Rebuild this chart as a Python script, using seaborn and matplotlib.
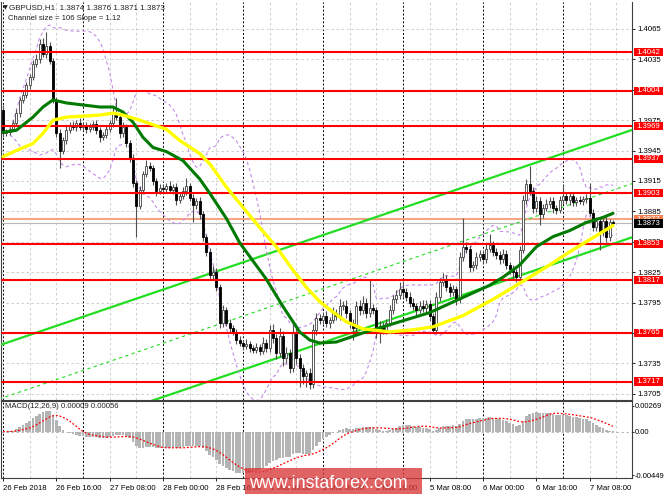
import numpy as np
import pandas as pd
import matplotlib
matplotlib.use("Agg")
import matplotlib.pyplot as plt
import matplotlib.transforms as mtrans
from matplotlib.patches import Rectangle
import seaborn as sns

# prices in pips above 1.3700, one H1 bar per value (26 Feb 00:00 .. 7 Mar 15:00)
base = 1.3700
pip = 0.0001
open0 = 285
closes = [
    262, 263, 266, 272, 282, 295, 300, 310, 318, 330, 335, 350, 340, 348, 333, 295,
    262, 245, 255, 265, 270, 268, 272, 268, 270, 266, 268, 271, 265, 258, 260, 266,
    272, 282, 278, 262, 268, 252, 238, 213, 190, 206, 222, 230, 228, 215, 205, 208,
    207, 210, 206, 209, 196, 200, 205, 210, 198, 191, 195, 182, 160, 145, 122, 125,
    110, 75, 88, 75, 70, 66, 58, 55, 52, 54, 50, 48, 51, 47, 55, 50,
    68, 60, 45, 62, 40, 45, 30, 65, 40, 30, 22, 25, 15, 68, 80, 78,
    82, 75, 78, 85, 82, 92, 92, 85, 75, 70, 92, 88, 95, 85, 90, 88,
    65, 72, 68, 75, 88, 98, 102, 108, 105, 100, 95, 92, 88, 92, 90, 94,
    82, 68, 100, 115, 118, 110, 105, 108, 98, 140, 150, 148, 130, 132, 140, 143,
    138, 148, 152, 145, 142, 138, 143, 132, 128, 125, 120, 147, 196, 212, 205, 188,
    195, 182, 188, 192, 195, 188, 186, 196, 200, 196, 200, 194, 196, 195, 197, 198,
    183, 170, 175, 165, 175, 160, 174, 173,
]
wick_up = [
    5, 3, 2, 3, 4, 3, 4, 3, 3, 4, 5, 5, 6, 14, 4, 3,
    3, 4, 3, 4, 3, 4, 3, 5, 3, 3, 4, 3, 4, 3, 3, 4,
    3, 6, 15, 4, 5, 3, 3, 4, 3, 4, 3, 6, 4, 3, 3, 4,
    4, 3, 5, 3, 4, 3, 4, 8, 3, 4, 3, 4, 3, 3, 4, 6,
    4, 3, 5, 3, 4, 3, 3, 4, 3, 5, 3, 3, 4, 3, 6, 4,
    5, 6, 4, 8, 5, 6, 4, 8, 5, 4, 4, 3, 5, 6, 5, 4,
    4, 5, 3, 6, 4, 6, 4, 5, 3, 4, 4, 5, 6, 4, 27, 4,
    3, 5, 4, 4, 5, 4, 5, 7, 8, 4, 5, 4, 3, 4, 5, 3,
    3, 3, 5, 4, 6, 4, 4, 4, 3, 5, 28, 5, 4, 4, 5, 4,
    4, 5, 11, 4, 4, 4, 5, 4, 3, 4, 3, 4, 5, 5, 18, 4,
    5, 4, 4, 5, 4, 4, 3, 4, 10, 4, 3, 4, 3, 4, 3, 4,
    15, 4, 4, 3, 4, 4, 3, 2,
]
wick_dn = [
    4, 3, 3, 2, 3, 4, 3, 3, 4, 3, 3, 4, 3, 4, 3, 3,
    4, 17, 3, 4, 3, 3, 4, 3, 3, 4, 3, 3, 4, 5, 3, 3,
    3, 4, 3, 5, 4, 3, 4, 4, 30, 3, 4, 3, 3, 4, 5, 3,
    3, 4, 3, 4, 5, 3, 3, 4, 3, 17, 4, 5, 4, 4, 5, 4,
    4, 5, 4, 3, 4, 3, 4, 3, 4, 3, 4, 3, 3, 4, 3, 4,
    4, 5, 6, 4, 8, 5, 5, 4, 6, 18, 7, 10, 5, 4, 5, 4,
    4, 4, 5, 3, 4, 4, 4, 5, 5, 12, 4, 5, 4, 5, 4, 4,
    5, 10, 4, 4, 3, 4, 3, 4, 5, 4, 4, 4, 5, 3, 4, 4,
    5, 2, 3, 4, 4, 4, 5, 4, 5, 3, 4, 4, 5, 4, 4, 4,
    4, 4, 3, 4, 4, 5, 4, 4, 5, 8, 5, 4, 3, 4, 4, 5,
    4, 10, 4, 3, 4, 5, 4, 3, 4, 4, 5, 4, 4, 3, 4, 4,
    3, 4, 4, 18, 4, 5, 4, 2,
]

# moving averages (bar index, pips above 1.3700)
green_idx = [0, 4, 9, 12, 15, 19, 24, 29, 33, 36, 39, 42, 45, 49, 54, 59, 62, 67, 71, 75,
             79, 84, 89, 92, 95, 100, 108, 118, 128, 138, 146, 150, 155, 160, 165, 170, 175, 180, 183]
green_val = [263, 265, 278, 288, 295, 292, 290, 288, 288, 283, 273, 258, 248, 244, 235, 217, 203, 178, 154, 136,
             118, 91, 66, 58, 55, 56, 65, 75, 85, 100, 112, 120, 132, 150, 160, 166, 174, 179, 183]
yellow_idx = [0, 4, 9, 12, 15, 19, 29, 33, 36, 41, 49, 53, 59, 62, 67, 72, 77, 82, 87, 91,
              95, 98, 103, 108, 116, 123, 129, 138, 148, 155, 163, 170, 175, 180, 183]
yellow_val = [239, 245, 252, 262, 275, 278, 280, 282, 280, 275, 266, 255, 242, 232, 209, 189, 169, 150, 127, 110,
              96, 88, 76, 69, 66, 68, 71, 82, 100, 114, 130, 145, 155, 165, 171]

levels = [1.4042, 1.4004, 1.3969, 1.3937, 1.3903, 1.3853, 1.3817, 1.3765, 1.3717]
bid = 1.3873
ask = 1.3877
price_ticks = [1.3705, 1.3735, 1.3765, 1.3795, 1.3825, 1.3855, 1.3885,
               1.3915, 1.3945, 1.3975, 1.4005, 1.4035, 1.4065]

# linear regression channel
channel_start = 1.3754
channel_slope = 0.000112
channel_size = 0.0106

macd_ticks = [0.00269, 0.0, -0.00449]
macd_labels = ["0.00269", "0.00", "-0.00449"]

date_pos = [0, 16, 32, 48, 64, 80, 96, 112, 128, 144, 160, 176]
date_labels = ["26 Feb 2018", "26 Feb 16:00", "27 Feb 08:00", "28 Feb 00:00", "28 Feb 16:00",
               "1 Mar 08:00", "2 Mar 00:00", "2 Mar 16:00", "5 Mar 08:00", "6 Mar 00:00",
               "6 Mar 16:00", "7 Mar 08:00"]

sns.set_theme(style="white")
plt.rcParams["font.family"] = ["Liberation Sans", "DejaVu Sans"]

c = base + np.array(closes) * pip
o = np.r_[base + open0 * pip, c[:-1]]
o[-1] = 1.3874
hi = np.maximum(o, c) + np.array(wick_up) * pip
lo = np.minimum(o, c) - np.array(wick_dn) * pip
x = np.arange(len(c))
bull = c >= o

s = pd.Series(c)
bb_mid = s.rolling(20, min_periods=3).mean()
bb_sd = s.rolling(20, min_periods=3).std(ddof=0)
macd = (s.ewm(span=12, adjust=False).mean() - s.ewm(span=26, adjust=False).mean()).to_numpy()
signal = pd.Series(macd).rolling(9, min_periods=1).mean().to_numpy()

W, H = 665, 499
fig = plt.figure(figsize=(W / 100, H / 100), dpi=100)
ax = fig.add_axes([1 / W, (H - 400) / H, 631 / W, 398 / H])
ax2 = fig.add_axes([1 / W, (H - 478) / H, 631 / W, 77 / H])

xmin, xmax = -0.6, 188.7
grid_c = "#c8c8c8"
for a in (ax, ax2):
    a.set_facecolor("white")
    for v in range(0, 189, 8):
        if v % 24 == 0:
            a.axvline(v, color="black", lw=0.7, ls=(0, (2, 2)), zorder=1)
        else:
            a.axvline(v, color=grid_c, lw=0.6, ls=(0, (3, 3)), zorder=1)
    for sp in a.spines.values():
        sp.set_color("#404040")
        sp.set_linewidth(0.8)

for p in price_ticks:
    ax.axhline(p, color=grid_c, lw=0.6, ls=(0, (3, 3)), zorder=1)

# bid / ask lines
ax.axhline(ask, color="#f4a585", lw=1.5, zorder=2)
ax.axhline(bid, color="#b8b8b8", lw=0.8, zorder=2)

# channel
cx = np.array([xmin - 1, xmax + 1])
ch_up = channel_start + channel_slope * cx
sns.lineplot(x=cx, y=ch_up, ax=ax, color="#22dd22", lw=1.6, zorder=3)
sns.lineplot(x=cx, y=ch_up - channel_size, ax=ax, color="#22dd22", lw=1.6, zorder=3)
ax.plot(cx, ch_up - channel_size / 2, color="#22dd22", lw=0.8, ls=(0, (3, 3)), zorder=3)

# bollinger bands
ax.plot(x, bb_mid + 2 * bb_sd, color="#c58be8", lw=0.8, ls=(0, (3, 2.5)), zorder=3)
ax.plot(x, bb_mid - 2 * bb_sd, color="#c58be8", lw=0.8, ls=(0, (3, 2.5)), zorder=3)

# candles
ax.vlines(x, lo, hi, color="#505050", lw=0.8, zorder=4)
body = np.maximum(np.abs(c - o), 0.00002)
ax.bar(x[bull], body[bull], bottom=o[bull], width=0.62, color="white",
       edgecolor="#404040", linewidth=0.6, zorder=5)
ax.bar(x[~bull], body[~bull], bottom=c[~bull], width=0.62, color="black",
       edgecolor="black", linewidth=0.6, zorder=5)

# support / resistance
for lv in levels:
    ax.axhline(lv, color="#ff0000", lw=1.5, zorder=6)

# moving averages
sns.lineplot(x=green_idx, y=base + np.array(green_val) * pip, ax=ax, color="#007a00", lw=2.2, zorder=7)
sns.lineplot(x=yellow_idx, y=base + np.array(yellow_val) * pip, ax=ax, color="#ffff00", lw=2.4, zorder=7)

ax.set_xlim(xmin, xmax)
ax.set_ylim(1.369875, 1.409165)
ax.set_xlabel("")
ax.set_ylabel("")
ax.set_xticks([])
ax.yaxis.tick_right()
ax.set_yticks(price_ticks)
ax.set_yticklabels([f"{p:.4f}" for p in price_ticks])
ax.tick_params(axis="y", right=True, length=2.5, width=0.6, pad=1.5, labelsize=5.6,
               colors="black")
ax.spines["top"].set_visible(False)

# price tags on the right scale
tr = mtrans.blended_transform_factory(ax.transAxes, ax.transData)
box_w, box_h = 0.047, 0.0004


def tag(val, fc, txt, z):
    ax.add_patch(Rectangle((1.0025, val - box_h), box_w, 2 * box_h, transform=tr,
                           facecolor=fc, edgecolor="none", clip_on=False, zorder=z))
    ax.text(1.0025 + box_w / 2, val, txt, transform=tr, ha="center", va="center",
            fontsize=5.6, color="white", clip_on=False, zorder=z + 0.1)


for lv in levels:
    tag(lv, "#ff0000", f"{lv:.4f}", 10)
tag(ask, "#f08050", f"{ask:.4f}", 11)
tag(bid, "black", f"{bid:.4f}", 12)

# MACD panel
ax2.axhline(0, color="#b0b0b0", lw=0.6, ls=(0, (3, 3)), zorder=1)
ax2.bar(x, macd, width=0.72, color="#b4b4b4", linewidth=0, antialiased=False, zorder=3)
ax2.plot(x, signal, color="#ff0000", lw=0.9, ls=(0, (1.5, 1.5)), zorder=4)
ax2.set_xlim(xmin, xmax)
ax2.set_ylim(-0.0048, 0.00318)
ax2.yaxis.tick_right()
ax2.set_yticks(macd_ticks)
ax2.set_yticklabels(macd_labels)
ax2.set_xticks(date_pos)
ax2.set_xticklabels(date_labels, ha="left")
ax2.tick_params(axis="y", right=True, length=1.5, width=0.6, pad=0.6, labelsize=5.5, colors="black")
ax2.tick_params(axis="x", bottom=True, length=2.5, width=0.6, pad=2.5, labelsize=5.6, colors="black")

# header texts
fig.text(3 / W, 1 - 8 / H, "\u25bc", family="DejaVu Sans", fontsize=4.5, va="center", color="#202020")
fig.text(9 / W, 1 - 8 / H, "GBPUSD,H1  1.3874 1.3876 1.3871 1.3873", fontsize=5.8,
         va="center", color="#202020")
fig.text(8 / W, 1 - 19 / H, "Channel size = 106 Slope = 1.12", fontsize=5.55,
         va="center", color="#202020")
fig.text(5 / W, 1 - 407 / H, "MACD(12,26,9) 0.00009 0.00056", fontsize=5.55,
         va="center", color="#202020", zorder=20)

# watermark
fig.patches.append(Rectangle((245 / W, 1 - 494 / H), 177 / W, 26 / H, transform=fig.transFigure,
                             facecolor="#d9383a", alpha=0.78, edgecolor="none", zorder=30))
fig.text(249 / W, 1 - 488 / H, "www.instaforex.com", fontsize=12.9, color="white",
         va="baseline", zorder=31)

fig.savefig("out.png", dpi=100)
